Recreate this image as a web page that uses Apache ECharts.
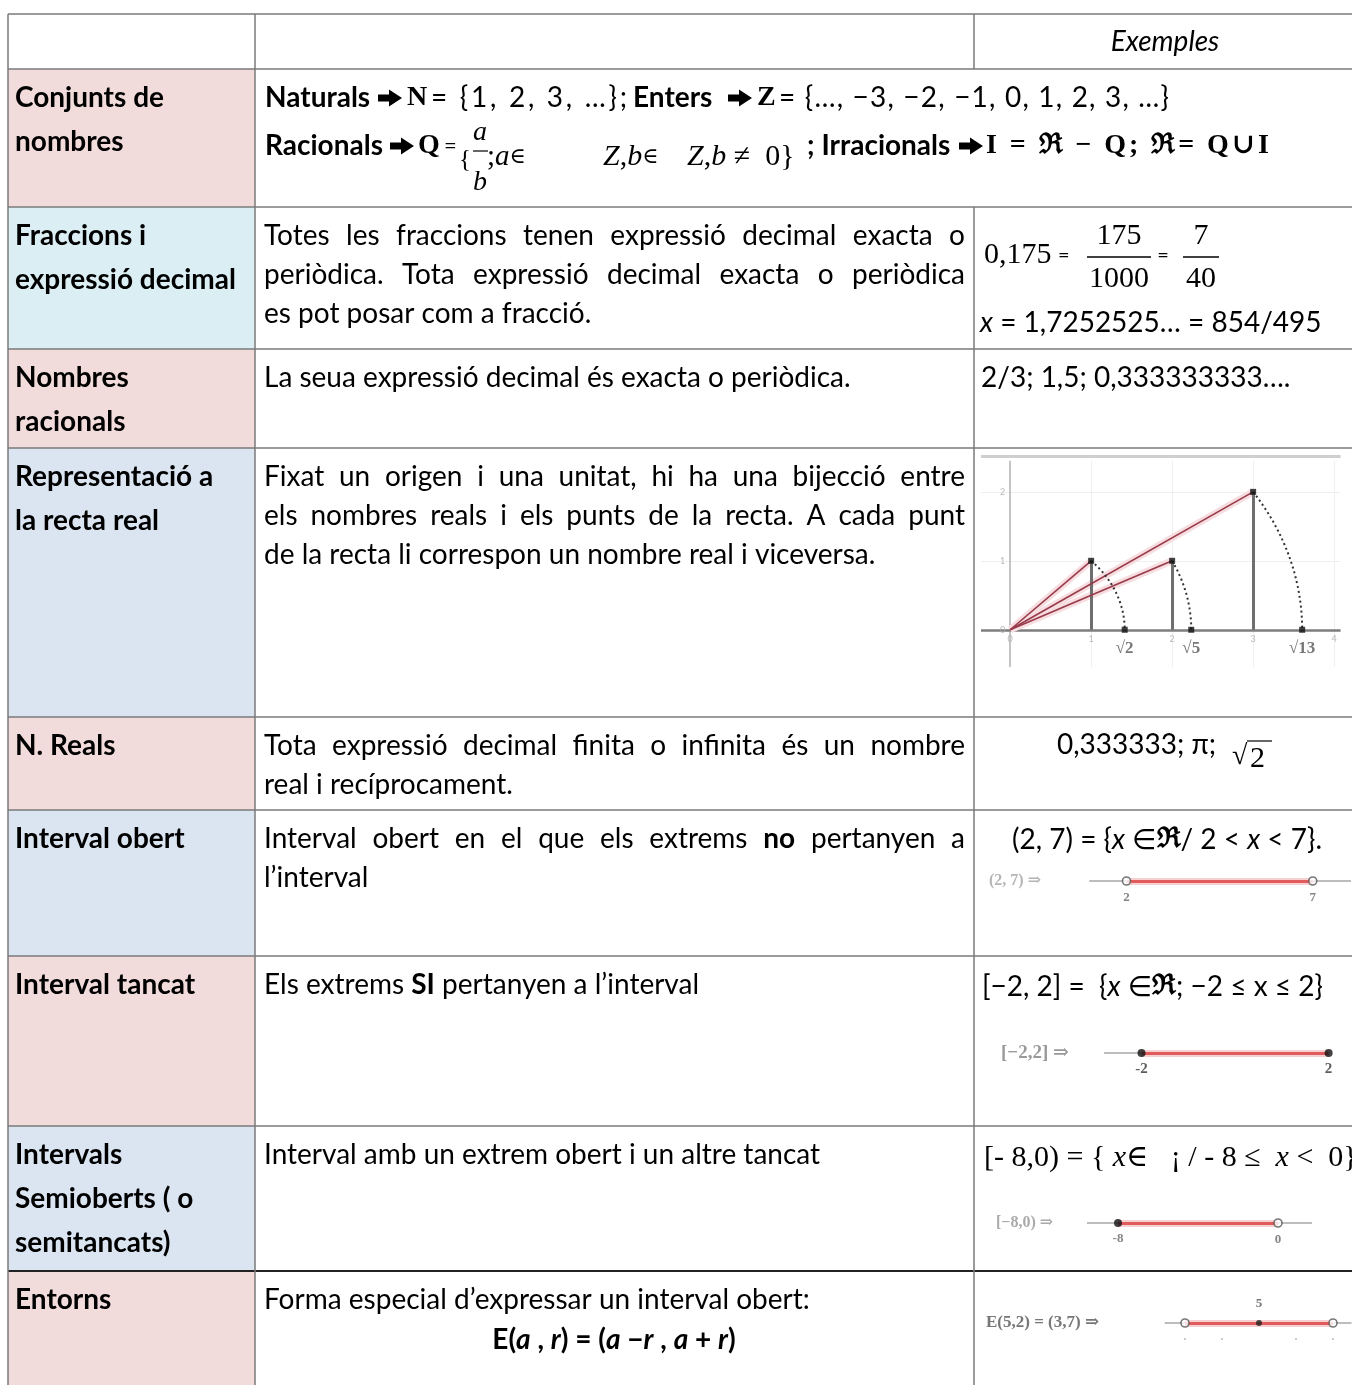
<!DOCTYPE html>
<html>
<head>
<meta charset="utf-8">
<title>Conjunts de nombres</title>
<script src="https://cdn.jsdelivr.net/npm/echarts@6/dist/echarts.min.js"></script>
<style>
    html, body { margin: 0; padding: 0; background: #fff; }
    #main { width: 1352px; height: 1385px; }
</style>
</head>
<body>
<div id="main"></div>
<script>
// ---- dades de la taula ----
var headerTitle = 'Exemples';
var rowNames = [
    ['Conjunts de', 'nombres'],
    ['Fraccions i', 'expressió decimal'],
    ['Nombres', 'racionals'],
    ['Representació a', 'la recta real'],
    ['N. Reals'],
    ['Interval obert'],
    ['Interval tancat'],
    ['Intervals', 'Semioberts ( o', 'semitancats)'],
    ['Entorns']
];
// text de la columna central (** marca negreta), la fila 1 es fa a part
var rowTexts = [
    null,
    ['Totes les fraccions tenen expressió decimal exacta o', 'periòdica. Tota expressió decimal exacta o periòdica', 'es pot posar com a fracció.'],
    ['La seua expressió decimal és exacta o periòdica.'],
    ['Fixat un origen i una unitat, hi ha una bijecció entre', 'els nombres reals i els punts de la recta. A cada punt', 'de la recta li correspon un nombre real i viceversa.'],
    ['Tota expressió decimal finita o infinita és un nombre', 'real i recíprocament.'],
    ['Interval obert en el que els extrems **no** pertanyen a', 'l’interval'],
    ['Els extrems **SI** pertanyen a l’interval'],
    ['Interval amb un extrem obert i un altre tancat'],
    ['Forma especial d’expressar un interval obert:']
];
var setNaturals = '= {1, 2, 3, …};';
var setIntegers = '= {…, −3, −2, −1, 0, 1, 2, 3, …}';
var setReals = 'I = ℜ − Q; ℜ= Q∪I';
var fractionExample = ['0,175', '175', '1000', '7', '40'];
var periodicExample = ' = 1,7252525… = 854/495';
var rationalExample = '2/3; 1,5; 0,333333333….';
var realExample = '0,333333; π; ';

// recta real: punts (catets), arrels i marques
var rectaPoints = [[1, 1], [2, 1], [3, 2]];
var rectaRootLabels = ['√2', '√5', '√13'];
var rectaTicksX = [0, 1, 2, 3, 4];
var rectaTicksY = [1, 2];

// intervals
var intervalNames = ['(2, 7) ⇒', '[−2,2] ⇒', '[−8,0) ⇒', 'E(5,2) = (3,7) ⇒'];
var intervalEnds = [[2, 7], [-2, 2], [-8, 0], [3, 7]];
var intervalClosed = [[false, false], [true, true], [true, false], [false, false]];
var intervalEndLabels = [['2', '7'], ['-2', '2'], ['-8', '0'], ['', '']];
var intervalLineExtent = [[1, 8.1], [-2.8, 2], [-9.55, 1.7], [2.45, 7.5]];
var entornCentre = 5;
var entornTicks = [3, 4, 6, 7];

// ---- disposició ----
var SANS = 'Lato, "DejaVu Sans", sans-serif';
var SERIF = '"Liberation Serif", "DejaVu Serif", serif';
var FS = 28;
var rowEdges = [14, 69, 207, 349, 448, 717, 810, 956, 1126, 1271, 1385];
var colEdges = [8, 255, 974];
var rowFills = ['#f2dcdb', '#daeef3', '#f2dcdb', '#dbe5f1', '#f2dcdb', '#dbe5f1', '#f2dcdb', '#dbe5f1', '#f2dcdb'];
var intervalGrids = [
    {left: 1052, width: 298, min: 0, max: 8, y: 881},
    {left: 1094.75, width: 259.9, min: -3, max: 2.5, y: 1053},
    {left: 1078, width: 240, min: -10, max: 2, y: 1223},
    {left: 1148, width: 203.5, min: 2, max: 7.5, y: 1323}
];

var mctx = document.createElement('canvas').getContext('2d');
function fontOf(o) {
    return (o.italic ? 'italic ' : '') + (o.bold ? 'bold ' : '') + (o.size || FS) + 'px ' + (o.family || SANS);
}
function measure(s, o) {
    mctx.font = fontOf(o);
    return mctx.measureText(s).width;
}
function T(x, y, text, o) {
    o = o || {};
    return {
        type: 'text', x: x, y: y, silent: true, z: 10,
        style: {
            text: text, fill: o.color || '#000', font: fontOf(o),
            align: o.align || 'left', verticalAlign: 'middle'
        }
    };
}
function L(x1, y1, x2, y2, color, w) {
    return {
        type: 'line', silent: true, z: 5,
        shape: {x1: x1, y1: y1, x2: x2, y2: y2},
        style: {stroke: color || '#000', lineWidth: w || 1.5}
    };
}

var els = [];
// fletxa gruixuda (➔)
function arrow(x, y) {
    els.push({
        type: 'polygon', silent: true, z: 10,
        shape: {points: [[x, y - 3.5], [x + 11, y - 3.5], [x + 11, y - 8.5], [x + 24, y], [x + 11, y + 8.5], [x + 11, y + 3.5], [x, y + 3.5]]},
        style: {fill: '#000'}
    });
}
// trossos seguits de text amb estils diferents
function chain(x, y, pieces, align) {
    var ws = pieces.map(function (p) { return measure(p.t, p); });
    var total = ws.reduce(function (a, b) { return a + b; }, 0);
    var cx = align === 'center' ? x - total / 2 : x;
    pieces.forEach(function (p, i) {
        els.push(T(cx, y + (p.dy || 0), p.t, p));
        cx += ws[i];
    });
}
// paraules repartides entre x0 i x1
function spread(x0, x1, y, words, justify) {
    var ws = words.map(function (w) { return measure(w.t, w); });
    var sum = ws.reduce(function (a, b) { return a + b; }, 0);
    var gap = (justify && words.length > 1) ? (x1 - x0 - sum) / (words.length - 1) : measure(' ', words[0] || {});
    var cx = x0;
    words.forEach(function (w, i) {
        els.push(T(cx, y, w.t, w));
        cx += ws[i] + gap;
    });
}
// lletres repartides entre x0 i x1 (espaiat de l'editor d'equacions)
function fitChars(x0, x1, y, text, o) {
    var chars = Array.from(text);
    var ws = chars.map(function (c) { return measure(c, o); });
    var sum = ws.reduce(function (a, b) { return a + b; }, 0);
    var extra = chars.length > 1 ? (x1 - x0 - sum) / (chars.length - 1) : 0;
    var cx = x0;
    chars.forEach(function (c, i) {
        if (c !== ' ') els.push(T(cx, y, c, o));
        cx += ws[i] + extra;
    });
}
// paràgraf justificat (l'última línia no)
function para(x0, x1, y0, pitch, lines) {
    lines.forEach(function (line, li) {
        var words = [];
        line.split('**').forEach(function (seg, si) {
            seg.split(' ').forEach(function (w) {
                if (w) words.push({t: w, bold: si % 2 === 1});
            });
        });
        spread(x0, x1, y0 + li * pitch, words, li < lines.length - 1);
    });
}

// fons de les cel·les de la primera columna
rowFills.forEach(function (c, i) {
    els.push({
        type: 'rect', silent: true, z: 0,
        shape: {x: colEdges[0], y: rowEdges[i + 1], width: colEdges[1] - colEdges[0], height: rowEdges[i + 2] - rowEdges[i + 1]},
        style: {fill: c}
    });
});
// vores (la fila 1 té les dues últimes cel·les unides)
rowEdges.slice(0, -1).forEach(function (y, i) {
    els.push(L(colEdges[0], y, 1352, y, i === 9 ? '#222' : '#7a7a7a', i === 9 ? 2 : 1.5));
});
els.push(L(colEdges[0], rowEdges[0], colEdges[0], 1385, '#7a7a7a', 1.5));
els.push(L(colEdges[1], rowEdges[0], colEdges[1], 1385, '#7a7a7a', 1.5));
els.push(L(colEdges[2], rowEdges[0], colEdges[2], rowEdges[1], '#7a7a7a', 1.5));
els.push(L(colEdges[2], rowEdges[2], colEdges[2], 1385, '#7a7a7a', 1.5));

// capçalera
els.push(T(1165, 42, headerTitle, {italic: true, align: 'center'}));

// noms de les files
rowNames.forEach(function (lines, i) {
    lines.forEach(function (s, k) {
        els.push(T(15, rowEdges[i + 1] + 29 + k * 44, s, {bold: true}));
    });
});

// columna central
rowTexts.forEach(function (lines, i) {
    if (lines) para(264, 965, rowEdges[i + 1] + 29, 39, lines);
});

// fila 1: conjunts de nombres
els.push(T(265, 98, 'Naturals', {bold: true}));
arrow(378, 98);
els.push(T(407, 98, 'N', {bold: true, family: SERIF, size: 28}));
fitChars(431, 627, 98, setNaturals, {});
els.push(T(633, 98, 'Enters', {bold: true}));
arrow(728, 98);
els.push(T(757, 98, 'Z', {bold: true, family: SERIF, size: 28}));
fitChars(779, 1169, 98, setIntegers, {});

els.push(T(265, 146, 'Racionals', {bold: true}));
arrow(390, 146);
els.push(T(418, 146, 'Q', {bold: true, family: SERIF, size: 28}));
els.push(T(444, 146, '=', {size: 22}));
els.push(T(459, 160, '{', {family: SERIF, size: 25}));
els.push(T(480, 133, 'a', {family: SERIF, italic: true, size: 28, align: 'center'}));
els.push(L(473, 151, 488, 151, '#000', 1.2));
els.push(T(480, 183, 'b', {family: SERIF, italic: true, size: 28, align: 'center'}));
chain(487, 157, [{t: ';', family: SERIF, size: 29}, {t: 'a', family: SERIF, italic: true, size: 29}, {t: '∈', family: SERIF, size: 22}]);
chain(603, 157, [{t: 'Z', family: SERIF, italic: true, size: 30}, {t: ',', family: SERIF, size: 30}, {t: 'b', family: SERIF, italic: true, size: 30}, {t: '∈', family: SERIF, size: 22}]);
chain(687, 157, [{t: 'Z', family: SERIF, italic: true, size: 30}, {t: ',', family: SERIF, size: 30}, {t: 'b', family: SERIF, italic: true, size: 30}, {t: ' ≠  0}', family: SERIF, size: 30}]);
els.push(T(807, 146, '; Irracionals', {bold: true}));
arrow(959, 146);
fitChars(986, 1269, 146, setReals, {bold: true, family: SERIF, size: 28});

// fila 2: fraccions
els.push(T(984, 255, fractionExample[0], {family: SERIF, size: 30}));
els.push(T(1058, 256, '=', {size: 20}));
els.push(T(1119, 236, fractionExample[1], {family: SERIF, size: 30, align: 'center'}));
els.push(L(1087, 257, 1151, 257, '#000', 1.3));
els.push(T(1119, 279, fractionExample[2], {family: SERIF, size: 30, align: 'center'}));
els.push(T(1163, 256, '=', {size: 20, align: 'center'}));
els.push(T(1201, 236, fractionExample[3], {family: SERIF, size: 30, align: 'center'}));
els.push(L(1183, 257, 1219, 257, '#000', 1.3));
els.push(T(1201, 279, fractionExample[4], {family: SERIF, size: 30, align: 'center'}));
chain(980, 323, [{t: 'x', italic: true}, {t: periodicExample}]);

// fila 3 i 5
els.push(T(981, 378, rationalExample));
els.push(T(1057, 745, realExample));
els.push(T(1232, 757, '√', {family: SERIF, size: 28}));
els.push(T(1250, 759, '2', {family: SERIF, size: 30}));
els.push(L(1247, 741, 1272, 741, '#000', 1.2));

// files 6-8: definicions dels intervals
chain(1167, 840, [
    {t: '(2, 7) = {'}, {t: 'x', italic: true}, {t: ' ∈'}, {t: 'ℜ', bold: true, family: SERIF, size: 28},
    {t: '/ 2 < '}, {t: 'x', italic: true}, {t: ' < 7}.'}
], 'center');
chain(982, 987, [
    {t: '[−2, 2] =  {'}, {t: 'x', italic: true}, {t: ' ∈'}, {t: 'ℜ', bold: true, family: SERIF, size: 28},
    {t: '; −2 ≤ x ≤ 2}'}
]);
chain(984, 1158, [
    {t: '[- 8,0) = { ', family: SERIF, size: 30}, {t: 'x', family: SERIF, italic: true, size: 30},
    {t: '∈   ¡ / - 8 ≤  ', family: SERIF, size: 30}, {t: 'x', family: SERIF, italic: true, size: 30},
    {t: ' <  0}', family: SERIF, size: 30}
]);

// fila 9: fórmula de l'entorn
chain(614, 1340, [
    {t: 'E(', bold: true}, {t: 'a', bold: true, italic: true}, {t: ' , ', bold: true}, {t: 'r', bold: true, italic: true},
    {t: ') = (', bold: true}, {t: 'a', bold: true, italic: true}, {t: ' −', bold: true}, {t: 'r', bold: true, italic: true},
    {t: ' , ', bold: true}, {t: 'a', bold: true, italic: true}, {t: ' + ', bold: true}, {t: 'r', bold: true, italic: true},
    {t: ')', bold: true}
], 'center');

// etiquetes de les rectes dels intervals
var nameStyles = [
    {x: 989, size: 16, color: '#b5b5b5'},
    {x: 1001, size: 19, color: '#999'},
    {x: 996, size: 16, color: '#aaa'},
    {x: 986, size: 17, color: '#777'}
];
intervalNames.forEach(function (s, i) {
    var st = nameStyles[i];
    els.push(T(st.x, intervalGrids[i].y, s, {family: SERIF, bold: true, size: st.size, color: st.color}));
});

// ---- gràfics amb ECharts ----
var grids = [{left: 981, top: 456, width: 359.6, height: 211}];
var xAxes = [{gridIndex: 0, type: 'value', min: -0.36, max: 4.08, show: false}];
var yAxes = [{gridIndex: 0, type: 'value', min: -0.54, max: 2.52, show: false}];
var series = [];

function seg(coords) { return {coords: coords}; }

// recta real (fila 4)
var lightGrid = [];
rectaTicksX.slice(1).forEach(function (k) { lightGrid.push(seg([[k, -0.54], [k, 2.45]])); });
rectaTicksY.forEach(function (k) { lightGrid.push(seg([[-0.36, k], [4.08, k]])); });
series.push({type: 'lines', coordinateSystem: 'cartesian2d', xAxisIndex: 0, yAxisIndex: 0, silent: true,
    lineStyle: {color: '#efefef', width: 1, opacity: 1}, data: lightGrid, z: 1});
series.push({type: 'lines', coordinateSystem: 'cartesian2d', xAxisIndex: 0, yAxisIndex: 0, silent: true,
    lineStyle: {color: '#cfcfcf', width: 3, opacity: 1}, data: [seg([[-0.36, 2.52], [4.08, 2.52]])], z: 1});
series.push({type: 'lines', coordinateSystem: 'cartesian2d', xAxisIndex: 0, yAxisIndex: 0, silent: true,
    lineStyle: {color: '#c4c4c4', width: 2, opacity: 1}, data: [seg([[0, -0.54], [0, 2.45]])], z: 2});
series.push({type: 'lines', coordinateSystem: 'cartesian2d', xAxisIndex: 0, yAxisIndex: 0, silent: true,
    lineStyle: {color: '#7d7d7d', width: 2.5, opacity: 1}, data: [seg([[-0.36, 0], [4.08, 0]])], z: 2});
series.push({type: 'lines', coordinateSystem: 'cartesian2d', xAxisIndex: 0, yAxisIndex: 0, silent: true,
    lineStyle: {color: '#f7dde0', width: 7, opacity: 1},
    data: rectaPoints.map(function (p) { return seg([[0, 0], p]); }), z: 3});
series.push({type: 'lines', coordinateSystem: 'cartesian2d', xAxisIndex: 0, yAxisIndex: 0, silent: true,
    lineStyle: {color: '#6e6e6e', width: 3, opacity: 1},
    data: rectaPoints.map(function (p) { return seg([[p[0], 0], p]); }), z: 4});
series.push({type: 'lines', coordinateSystem: 'cartesian2d', xAxisIndex: 0, yAxisIndex: 0, silent: true,
    lineStyle: {color: '#973a4a', width: 1.6, opacity: 1},
    data: rectaPoints.map(function (p) { return seg([[0, 0], p]); }), z: 5});
// arcs de compàs: centre l'origen, radi la hipotenusa
series.push({
    type: 'custom', coordinateSystem: 'cartesian2d', xAxisIndex: 0, yAxisIndex: 0, silent: true, z: 5,
    data: rectaPoints,
    renderItem: function (params, api) {
        var px = api.value(0), py = api.value(1);
        var r = Math.sqrt(px * px + py * py), a0 = Math.atan2(py, px);
        var pts = [];
        for (var k = 0; k <= 40; k++) {
            var t = a0 * (1 - k / 40);
            pts.push(api.coord([r * Math.cos(t), r * Math.sin(t)]));
        }
        return {type: 'polyline', shape: {points: pts},
            style: {stroke: '#333', lineWidth: 2, lineDash: [2, 3], fill: null}};
    }
});
var rootPoints = rectaPoints.map(function (p, i) {
    return {name: rectaRootLabels[i], value: [Math.sqrt(p[0] * p[0] + p[1] * p[1]), 0]};
});
series.push({type: 'scatter', xAxisIndex: 0, yAxisIndex: 0, silent: true, z: 6,
    symbol: 'rect', symbolSize: 6, itemStyle: {color: '#111'},
    data: rectaPoints.concat(rootPoints.map(function (d) { return d.value; }))});
series.push({type: 'scatter', xAxisIndex: 0, yAxisIndex: 0, silent: true, z: 6, symbolSize: 0,
    data: rootPoints,
    label: {show: true, position: 'bottom', distance: 10, formatter: '{b}', color: '#555',
        fontFamily: SERIF, fontSize: 17, fontWeight: 'bold'}});
series.push({type: 'scatter', xAxisIndex: 0, yAxisIndex: 0, silent: true, z: 6, symbolSize: 0,
    data: rectaTicksX.map(function (k) { return {name: String(k), value: [k, 0]}; }),
    label: {show: true, position: 'bottom', distance: 5, formatter: '{b}', color: '#aaa',
        fontFamily: SANS, fontSize: 9}});
series.push({type: 'scatter', xAxisIndex: 0, yAxisIndex: 0, silent: true, z: 6, symbolSize: 0,
    data: [0].concat(rectaTicksY).map(function (k) { return {name: String(k), value: [0, k]}; }),
    label: {show: true, position: 'left', distance: 5, formatter: '{b}', color: '#aaa',
        fontFamily: SANS, fontSize: 9}});

// rectes dels intervals (files 6-9)
intervalGrids.forEach(function (g, i) {
    var gi = i + 1;
    grids.push({left: g.left, top: g.y - 25, width: g.width, height: 50});
    xAxes.push({gridIndex: gi, type: 'value', min: g.min, max: g.max, show: false});
    yAxes.push({gridIndex: gi, type: 'value', min: -2.5, max: 2.5, show: false});
    var ends = intervalEnds[i];
    var ext = intervalLineExtent[i];
    series.push({type: 'lines', coordinateSystem: 'cartesian2d', xAxisIndex: gi, yAxisIndex: gi, silent: true, z: 2,
        lineStyle: {color: '#bdbdbd', width: 2, opacity: 1}, data: [seg([[ext[0], 0], [ext[1], 0]])]});
    series.push({type: 'lines', coordinateSystem: 'cartesian2d', xAxisIndex: gi, yAxisIndex: gi, silent: true, z: 3,
        lineStyle: {color: '#f6d0d0', width: 7, opacity: 1}, data: [seg([[ends[0], 0], [ends[1], 0]])]});
    series.push({type: 'lines', coordinateSystem: 'cartesian2d', xAxisIndex: gi, yAxisIndex: gi, silent: true, z: 4,
        lineStyle: {color: '#e05c5c', width: 3, opacity: 1}, data: [seg([[ends[0], 0], [ends[1], 0]])]});
    series.push({type: 'scatter', xAxisIndex: gi, yAxisIndex: gi, silent: true, z: 6, symbolSize: 8,
        data: ends.map(function (v, k) {
            var closed = intervalClosed[i][k];
            return {
                name: intervalEndLabels[i][k], value: [v, 0],
                itemStyle: closed ? {color: '#111'} : {color: '#fff', borderColor: '#555', borderWidth: 1.6}
            };
        }),
        label: {show: true, position: 'bottom', distance: 5, formatter: '{b}', color: i === 1 ? '#333' : '#666',
            fontFamily: SERIF, fontWeight: 'bold', fontSize: i === 1 ? 15 : 13}});
    if (i === 3) {
        series.push({type: 'scatter', xAxisIndex: gi, yAxisIndex: gi, silent: true, z: 6, symbolSize: 6,
            itemStyle: {color: '#222'},
            data: [{name: String(entornCentre), value: [entornCentre, 0]}],
            label: {show: true, position: 'top', distance: 10, formatter: '{b}', color: '#555',
                fontFamily: SERIF, fontWeight: 'bold', fontSize: 13}});
        series.push({type: 'scatter', xAxisIndex: gi, yAxisIndex: gi, silent: true, z: 6, symbolSize: 2,
            itemStyle: {color: '#aaa'},
            data: entornTicks.map(function (v) { return [v, -1.6]; })});
    }
});

var chart = echarts.init(document.getElementById('main'));
chart.setOption({
    backgroundColor: '#fff',
    animation: false,
    grid: grids,
    xAxis: xAxes,
    yAxis: yAxes,
    series: series,
    graphic: {elements: els}
});
window.onresize = function () {
    chart.resize();
};
</script>
</body>
</html>
